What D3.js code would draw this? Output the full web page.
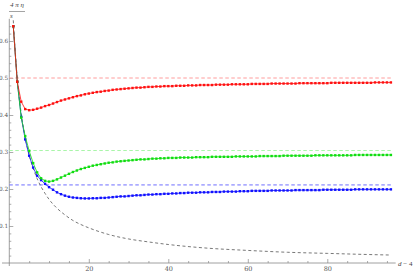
<!DOCTYPE html>
<html lang="en">
<head>
<meta charset="utf-8">
<title>4 pi eta / s</title>
<script src="https://d3js.org/d3.v7.min.js"></script>
<style>
  body { margin: 0; background: #fff; }
  svg { display: block; }
  .tick text { font-family: "DejaVu Serif", "Liberation Serif", serif; font-size: 6.5px; fill: #555; }
  .ylab .tick text { font-size: 5.8px; }
  .tick line { stroke: #888; stroke-width: 0.7; }
</style>
</head>
<body>
<svg></svg>
<script>

// values, x = d - 4 runs 1..96
var red = [
  0.640, 0.490, 0.436, 0.416, 0.413, 0.414, 0.417, 0.420, 0.424, 0.427,
  0.431, 0.435, 0.439, 0.442, 0.445, 0.448, 0.451, 0.453, 0.456, 0.458,
  0.460, 0.462, 0.463, 0.465, 0.466, 0.468, 0.469, 0.470, 0.471, 0.472,
  0.473, 0.474, 0.474, 0.475, 0.476, 0.476, 0.477, 0.477, 0.478, 0.478,
  0.478, 0.479, 0.479, 0.479, 0.480, 0.480, 0.480, 0.481, 0.481, 0.481,
  0.481, 0.482, 0.482, 0.482, 0.482, 0.483, 0.483, 0.483, 0.483, 0.483,
  0.484, 0.484, 0.484, 0.484, 0.484, 0.485, 0.485, 0.485, 0.485, 0.485,
  0.485, 0.485, 0.486, 0.486, 0.486, 0.486, 0.486, 0.486, 0.486, 0.486,
  0.487, 0.487, 0.487, 0.487, 0.487, 0.487, 0.487, 0.487, 0.487, 0.487,
  0.487, 0.488, 0.488, 0.488, 0.488, 0.488
];
var green = [
  0.640, 0.490, 0.393, 0.343, 0.303, 0.270, 0.245, 0.229, 0.222, 0.220,
  0.222, 0.226, 0.231, 0.236, 0.241, 0.246, 0.250, 0.254, 0.257, 0.260,
  0.263, 0.265, 0.267, 0.269, 0.271, 0.272, 0.274, 0.275, 0.276, 0.277,
  0.278, 0.279, 0.280, 0.280, 0.281, 0.282, 0.282, 0.283, 0.283, 0.284,
  0.284, 0.284, 0.285, 0.285, 0.285, 0.285, 0.286, 0.286, 0.286, 0.286,
  0.287, 0.287, 0.287, 0.287, 0.287, 0.287, 0.288, 0.288, 0.288, 0.288,
  0.288, 0.288, 0.289, 0.289, 0.289, 0.289, 0.289, 0.289, 0.290, 0.290,
  0.290, 0.290, 0.290, 0.290, 0.290, 0.290, 0.291, 0.291, 0.291, 0.291,
  0.291, 0.291, 0.291, 0.291, 0.291, 0.291, 0.292, 0.292, 0.292, 0.292,
  0.292, 0.292, 0.292, 0.292, 0.292, 0.292
];
var blue = [
  0.640, 0.490, 0.395, 0.334, 0.290, 0.258, 0.236, 0.224, 0.214, 0.205,
  0.198, 0.191, 0.186, 0.182, 0.179, 0.177, 0.176, 0.175, 0.1745, 0.1745,
  0.175, 0.175, 0.176, 0.176, 0.177, 0.178, 0.179, 0.180, 0.180, 0.181,
  0.182, 0.183, 0.183, 0.184, 0.185, 0.185, 0.186, 0.186, 0.187, 0.187,
  0.188, 0.188, 0.189, 0.189, 0.190, 0.190, 0.190, 0.191, 0.191, 0.191,
  0.192, 0.192, 0.192, 0.193, 0.193, 0.193, 0.193, 0.194, 0.194, 0.194,
  0.195, 0.195, 0.195, 0.195, 0.195, 0.196, 0.196, 0.196, 0.196, 0.196,
  0.196, 0.197, 0.197, 0.197, 0.197, 0.197, 0.197, 0.197, 0.198, 0.198,
  0.198, 0.198, 0.198, 0.198, 0.198, 0.198, 0.199, 0.199, 0.199, 0.199,
  0.199, 0.199, 0.199, 0.199, 0.199, 0.199
];

// black dashed curve (no markers)
var blackX = [1, 2, 3, 4, 5, 6, 7, 8, 9, 10, 12, 14, 16, 18, 20, 25, 30, 35, 40, 50, 60, 70, 80, 90, 96];
var blackY = [0.656, 0.500, 0.404, 0.339, 0.292, 0.256, 0.228, 0.206, 0.188, 0.172, 0.148, 0.130,
              0.115, 0.104, 0.095, 0.077, 0.065, 0.057, 0.050, 0.040, 0.034, 0.029, 0.026, 0.023, 0.0215];

// dashed limit lines
var limits = [0.5, 0.304, 0.211];
var limitColors = ["#ff9c9c", "#a8f5a8", "#6e6eff"];

var seriesColors = ["#1010ff", "#10dd10", "#ff1010"];   // blue, green, red (draw order)

var xMajor = [20, 40, 60, 80];
var yMajor = [0.1, 0.2, 0.3, 0.4, 0.5, 0.6];

var w = 416, h = 272;
var svg = d3.select("svg").attr("width", w).attr("height", h);

var x = d3.scaleLinear().domain([0, 96]).range([9.3, 390.9]);
var y = d3.scaleLinear().domain([0, 0.6]).range([263, 41]);

var xs = d3.range(1, red.length + 1);

// axes
var xMinor = d3.range(5, 100, 5).filter(d => xMajor.indexOf(d) < 0);
var yMinor = d3.range(1, 33).map(d => +(d * 0.02).toFixed(2)).filter(d => yMajor.indexOf(d) < 0);

svg.append("g").attr("transform", "translate(0," + y(0) + ")")
   .call(d3.axisBottom(x).tickValues(xMinor).tickSize(-2).tickFormat(""))
   .select(".domain").remove();
svg.append("g").attr("transform", "translate(0," + y(0) + ")")
   .call(d3.axisBottom(x).tickValues(xMajor).tickSize(-4).tickPadding(3).tickFormat(d3.format("d")))
   .select(".domain").remove();
svg.append("g").attr("transform", "translate(" + x(0) + ",0)")
   .call(d3.axisLeft(y).tickValues(yMinor).tickSize(-2).tickFormat(""))
   .select(".domain").remove();
svg.append("g").attr("class", "ylab").attr("transform", "translate(" + x(0) + ",0)")
   .call(d3.axisLeft(y).tickValues(yMajor).tickSize(-4).tickPadding(1.2).tickFormat(d3.format(".1f")))
   .select(".domain").remove();

svg.append("line").attr("x1", 2).attr("x2", x(97.2)).attr("y1", y(0)).attr("y2", y(0))
   .attr("stroke", "#888").attr("stroke-width", 0.8);
svg.append("line").attr("x1", x(0)).attr("x2", x(0)).attr("y1", y(0) + 3).attr("y2", y(0.66))
   .attr("stroke", "#888").attr("stroke-width", 0.8);

// axis labels
svg.append("text").attr("x", 398).attr("y", 266)
   .attr("font-family", "Liberation Serif, serif").attr("font-size", 7).attr("fill", "#444")
   .html('<tspan font-style="italic">d</tspan> \u2212 4');
svg.append("text").attr("x", 10).attr("y", 7)
   .attr("font-family", "Liberation Serif, serif").attr("font-size", 7).attr("fill", "#444")
   .attr("font-style", "italic").text("4 \u03c0 \u03b7");
svg.append("line").attr("x1", 9).attr("x2", 25).attr("y1", 11.5).attr("y2", 11.5)
   .attr("stroke", "#666").attr("stroke-width", 0.6);
svg.append("text").attr("x", 10).attr("y", 18)
   .attr("font-family", "Liberation Serif, serif").attr("font-size", 7).attr("fill", "#444")
   .attr("font-style", "italic").text("s");

// limit lines
svg.selectAll(".limit").data(limits).enter().append("line")
   .attr("class", "limit")
   .attr("x1", x(0)).attr("x2", x(96))
   .attr("y1", d => y(d)).attr("y2", d => y(d))
   .attr("stroke", (d, i) => limitColors[i])
   .attr("stroke-width", 1)
   .attr("stroke-dasharray", "3.5,2.5");

// black dashed curve
var blackLine = d3.line().curve(d3.curveMonotoneX).x(d => x(d[0])).y(d => y(d[1]));
svg.append("path").datum(blackX.map((d, i) => [d, blackY[i]]))
   .attr("d", blackLine).attr("fill", "none")
   .attr("stroke", "#555").attr("stroke-width", 0.8).attr("stroke-dasharray", "3,2.5");

// data series: line + square markers
var series = [blue, green, red];
var line = d3.line().x((d, i) => x(xs[i])).y(d => y(d));
series.forEach(function(s, k) {
  var g = svg.append("g");
  g.append("path").datum(s).attr("d", line).attr("fill", "none")
   .attr("stroke", seriesColors[k]).attr("stroke-width", 0.8);
  g.selectAll("rect").data(s).enter().append("rect")
   .attr("x", (d, i) => x(xs[i]) - 1.2)
   .attr("y", d => y(d) - 1.2)
   .attr("width", 2.4).attr("height", 2.4)
   .attr("fill", seriesColors[k]);
});

</script>
</body>
</html>
